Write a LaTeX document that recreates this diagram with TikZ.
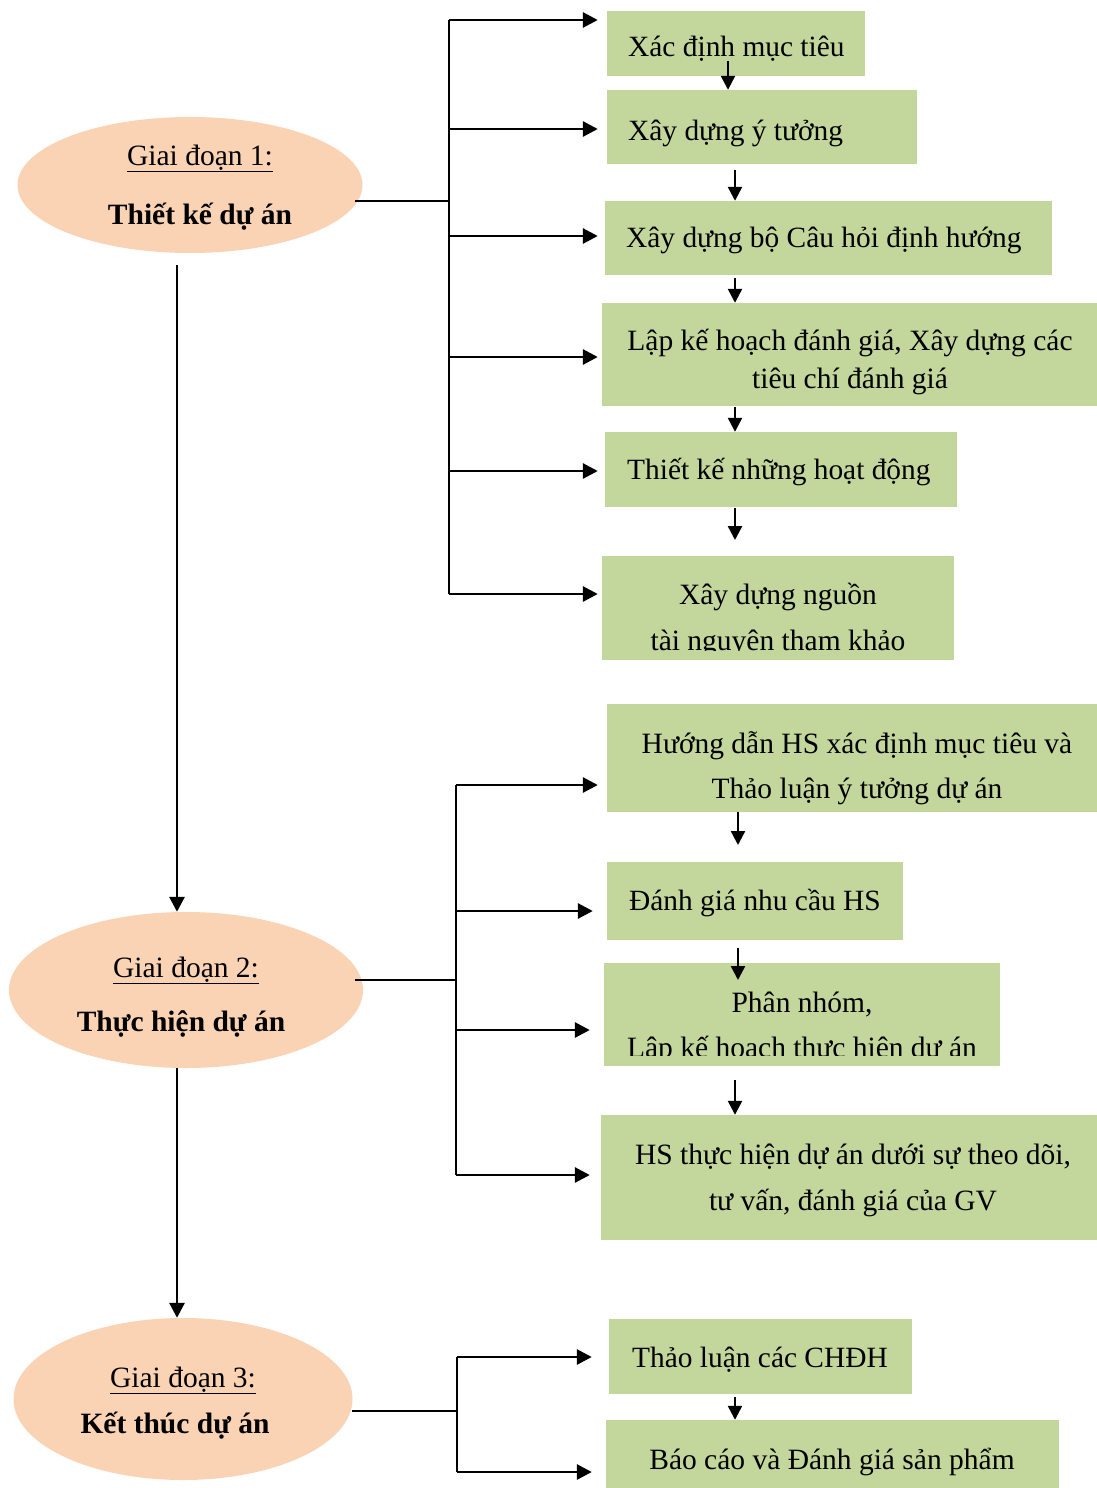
\documentclass[tikz,border=0pt]{standalone}
\usepackage{fontspec}
\setmainfont{Liberation Serif}
\usetikzlibrary{arrows.meta,shapes.geometric}
\definecolor{boxgreen}{HTML}{C3D69B}
\definecolor{peach}{HTML}{FAD3B4}
\begin{document}
\begin{tikzpicture}[x=1pt,y=-1pt,
  gbox/.style={rectangle, fill=boxgreen, draw=none, inner sep=0pt},
  phase/.style={ellipse, fill=peach, draw=none, inner sep=0pt},
  ltxt/.style={inner sep=0pt, anchor=base west, font=\fontsize{29.4}{35}\selectfont},
  ctxt/.style={inner sep=0pt, anchor=base, font=\fontsize{29.5}{35}\selectfont},
  arr/.style={line width=2.9pt, -{Triangle[length=15pt,width=15pt]}},
  ln/.style={line width=2.9pt},
  varr/.style={line width=2.4pt, -{Triangle[length=14pt,width=14pt]}}
]
\useasboundingbox (0,0) rectangle (1097,1488);

% ---------- phases ----------
\node[phase, minimum width=345pt, minimum height=136pt] (E1) at (190,185) {};
\node[ctxt] (E1a) at (200,165) {\underline{Giai đoạn 1:}};
\node[ctxt] (E1b) at (200,224) {\textbf{Thiết kế dự án}};
\node[phase, minimum width=354pt, minimum height=156pt] (E2) at (186,990) {};
\node[ctxt] (E2a) at (186,977) {\underline{Giai đoạn 2:}};
\node[ctxt] (E2b) at (181,1031) {\textbf{Thực hiện dự án}};
\node[phase, minimum width=339pt, minimum height=162pt] (E3) at (183,1399) {};
\node[ctxt] (E3a) at (183,1387) {\underline{Giai đoạn 3:}};
\node[ctxt] (E3b) at (175,1433) {\textbf{Kết thúc dự án}};

% ---------- stage 1 boxes ----------
\node[gbox, minimum width=258pt, minimum height=65pt] (B1) at (736,43.5) {};
\node[ltxt] (B1t) at (628,57) {Xác định mục tiêu};
\node[gbox, minimum width=310pt, minimum height=74pt] (B2) at (762,127) {};
\node[ltxt] (B2t) at (628,140) {Xây dựng ý tưởng};
\node[gbox, minimum width=447pt, minimum height=74pt] (B3) at (828.5,238) {};
\node[ltxt] (B3t) at (626,247) {Xây dựng bộ Câu hỏi định hướng};
\node[gbox, minimum width=495pt, minimum height=103pt] (B4) at (849.5,354.5) {};
\node[ctxt] (B4a) at (850,350) {Lập kế hoạch đánh giá, Xây dựng các};
\node[ctxt] (B4b) at (850,388) {tiêu chí đánh giá};
\node[gbox, minimum width=352pt, minimum height=75pt] (B5) at (781,469.5) {};
\node[ltxt] (B5t) at (627,479) {Thiết kế những hoạt động};
\node[gbox, minimum width=352pt, minimum height=104pt] (B6) at (778,608) {};
\begin{scope}
  \clip (602,556) rectangle (954,650);
  \node[ctxt] (B6a) at (778,604) {Xây dựng nguồn};
  \node[ctxt] (B6b) at (778,650) {tài nguyên tham khảo};
\end{scope}

% ---------- stage 2 boxes ----------
\node[gbox, minimum width=490pt, minimum height=108pt] (C1) at (852,758) {};
\node[ctxt] (C1a) at (857,753) {Hướng dẫn HS xác định mục tiêu và};
\node[ctxt] (C1b) at (857,798) {Thảo luận ý tưởng dự án};
\node[gbox, minimum width=296pt, minimum height=78pt] (C2) at (755,901) {};
\node[ltxt] (C2t) at (629,910) {Đánh giá nhu cầu HS};
\node[gbox, minimum width=396pt, minimum height=103pt] (C3) at (802,1014.5) {};
\begin{scope}
  \clip (604,963) rectangle (1000,1055);
  \node[ctxt] (C3a) at (802,1012) {Phân nhóm,};
  \node[ctxt] (C3b) at (802,1057) {Lập kế hoạch thực hiện dự án};
\end{scope}
\node[gbox, minimum width=496pt, minimum height=125pt] (C4) at (849,1177.5) {};
\node[ctxt] (C4a) at (853,1164) {HS thực hiện dự án dưới sự theo dõi,};
\node[ctxt] (C4b) at (853,1210) {tư vấn, đánh giá của GV};

% ---------- stage 3 boxes ----------
\node[gbox, minimum width=303pt, minimum height=75pt] (D1) at (760.5,1356.5) {};
\node[ltxt] (D1t) at (632,1367) {Thảo luận các CHĐH};
\node[gbox, minimum width=453pt, minimum height=68pt] (D2) at (832.5,1454) {};
\node[ctxt] (D2t) at (832,1469) {Báo cáo và Đánh giá sản phẩm};

% ---------- phase-to-phase arrows ----------
\coordinate (p1) at (177,265);
\coordinate (p2) at (177,1068);
\draw[arr] (p1) -- (p1 |- E2.north);
\draw[arr] (p2) -- (p2 |- E3.north);

% ---------- tree 1 ----------
\coordinate (s1) at (355,201);
\coordinate (j1) at (449,201);
\coordinate (t11) at (449,20);
\coordinate (t12) at (449,129);
\coordinate (t13) at (449,236);
\coordinate (t14) at (449,357);
\coordinate (t15) at (449,471);
\coordinate (t16) at (449,594);
\draw[ln] (s1) -- (j1);
\draw[ln] (t11) -- (t16);
\draw[arr, shorten >=9pt] (t11) -- (t11 -| B1.west);
\draw[arr, shorten >=9pt] (t12) -- (t12 -| B2.west);
\draw[arr, shorten >=7pt] (t13) -- (t13 -| B3.west);
\draw[arr, shorten >=4pt] (t14) -- (t14 -| B4.west);
\draw[arr, shorten >=7pt] (t15) -- (t15 -| B5.west);
\draw[arr, shorten >=4pt] (t16) -- (t16 -| B6.west);

% ---------- tree 2 ----------
\coordinate (s2) at (355,980);
\coordinate (j2) at (456,980);
\coordinate (t21) at (456,785);
\coordinate (t22) at (456,911);
\coordinate (t23) at (456,1030);
\coordinate (t24) at (456,1175);
\draw[ln] (s2) -- (j2);
\draw[ln] (t21) -- (t24);
\draw[arr, shorten >=9pt] (t21) -- (t21 -| C1.west);
\draw[arr, shorten >=14pt] (t22) -- (t22 -| C2.west);
\draw[arr, shorten >=14pt] (t23) -- (t23 -| C3.west);
\draw[arr, shorten >=11pt] (t24) -- (t24 -| C4.west);

% ---------- tree 3 ----------
\coordinate (s3) at (352,1411);
\coordinate (j3) at (457,1411);
\coordinate (t31) at (457,1357);
\coordinate (t32) at (457,1472);
\draw[ln] (s3) -- (j3);
\draw[ln] (t31) -- (t32);
\draw[arr, shorten >=17pt] (t31) -- (t31 -| D1.west);
\draw[arr, shorten >=14pt] (t32) -- (t32 -| D2.west);

% ---------- step arrows ----------
\coordinate (a1) at (728,61);
\coordinate (a2) at (735,170);
\coordinate (a3) at (735,278);
\coordinate (a4) at (735,407);
\coordinate (a5) at (735,508);
\coordinate (a5e) at (735,540);
\coordinate (c1) at (738,812);
\coordinate (c1e) at (738,845);
\coordinate (c2) at (738,948);
\coordinate (c2e) at (738,980);
\coordinate (c3) at (735,1080);
\coordinate (d1) at (735,1397);
\draw[varr] (a1) -- (a1 |- B2.north);
\draw[varr] (a2) -- (a2 |- B3.north);
\draw[varr] (a3) -- (a3 |- B4.north);
\draw[varr] (a4) -- (a4 |- B5.north);
\draw[varr] (a5) -- (a5e);
\draw[varr] (c1) -- (c1e);
\draw[varr] (c2) -- (c2e);
\draw[varr] (c3) -- (c3 |- C4.north);
\draw[varr] (d1) -- (d1 |- D2.north);
\end{tikzpicture}
\end{document}
